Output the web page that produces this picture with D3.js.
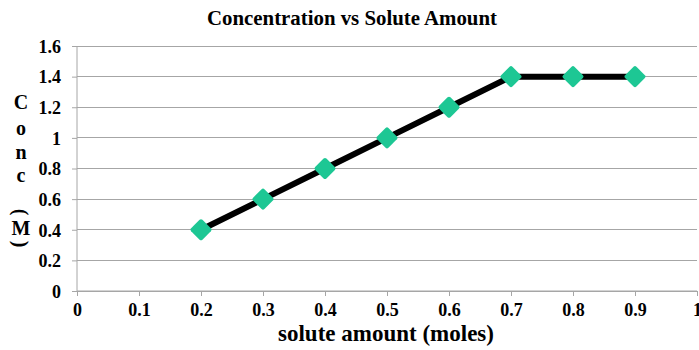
<!DOCTYPE html>
<html><head><meta charset="utf-8">
<script src="https://cdn.jsdelivr.net/npm/d3@7"></script>
<style>body{margin:0;background:#fff}svg{display:block}text{font-family:"Liberation Serif","Times New Roman",serif;font-weight:bold;fill:#000}</style>
</head><body>
<svg id="c" width="699" height="350"></svg>
<script>
const xValues = [0.2, 0.3, 0.4, 0.5, 0.6, 0.7, 0.8, 0.9];
const concValues = [0.4, 0.6, 0.8, 1.0, 1.2, 1.4, 1.4, 1.4];
const xTicks = [0, 0.1, 0.2, 0.3, 0.4, 0.5, 0.6, 0.7, 0.8, 0.9, 1];
const yTicks = [0, 0.2, 0.4, 0.6, 0.8, 1, 1.2, 1.4, 1.6];
const title = "Concentration vs Solute Amount";
const xTitle = "solute amount (moles)";
const yTitleChars = ["C","o","n","c","(","M",")"];

const svg = d3.select("#c");
const x = d3.scaleLinear().domain([0,1]).range([77,697]);
const y = d3.scaleLinear().domain([0,1.6]).range([291,46]);

// gridlines
svg.append("g").selectAll("line").data(yTicks).join("line")
  .attr("x1", x(0)).attr("x2", x(1)).attr("y1", d=>y(d)).attr("y2", d=>y(d))
  .attr("stroke", "#a6a6a6").attr("stroke-width", 1).attr("shape-rendering","crispEdges");

// y axis
const ya = svg.append("g").attr("transform", `translate(${x(0)},0)`)
  .call(d3.axisLeft(y).tickValues(yTicks).tickSize(5).tickFormat(d=>d3.format("")(d)));
ya.attr("font-size", 18);
ya.select(".domain").attr("stroke","#a6a6a6").attr("d", `M0,${y(1.6)}V${y(0)}`);
ya.selectAll(".tick line").attr("stroke","#a6a6a6");
ya.selectAll(".tick text").attr("font-size", 18).attr("x", -16).attr("dy","0.35em")
  .style("font-family","'Liberation Serif',serif").style("font-weight","bold");

// x axis
const xa = svg.append("g").attr("transform", `translate(0,${y(0)})`)
  .call(d3.axisBottom(x).tickValues(xTicks).tickSize(5).tickFormat(d=>d3.format("")(d)));
xa.attr("font-size", 18);
xa.select(".domain").attr("stroke","#a6a6a6").attr("d", `M${x(0)},0H${x(1)}`);
xa.selectAll(".tick line").attr("stroke","#a6a6a6");
xa.selectAll(".tick text").attr("font-size", 18).attr("y", 12)
  .style("font-family","'Liberation Serif',serif").style("font-weight","bold");

// line
const pts = xValues.map((v,i)=>[v, concValues[i]]);
svg.append("path").datum(pts)
  .attr("d", d3.line().x(d=>x(d[0])).y(d=>y(d[1])))
  .attr("fill","none").attr("stroke","#000").attr("stroke-width",6).attr("stroke-linejoin","round");

// markers
svg.append("g").selectAll("rect").data(pts).join("rect")
  .attr("x",-8).attr("y",-8).attr("width",16).attr("height",16).attr("rx",2)
  .attr("transform", d=>`translate(${x(d[0])},${y(d[1])}) rotate(45)`)
  .attr("fill","#1dc794");

// title
svg.append("text").attr("x", 352).attr("y", 25).attr("text-anchor","middle")
  .attr("font-size", 20).attr("textLength", 290).attr("lengthAdjust","spacingAndGlyphs").text(title);

// x title
svg.append("text").attr("x", 386).attr("y", 341).attr("text-anchor","middle")
  .attr("font-size", 23).text(xTitle);

// y title stacked
const yPos = [102, 128, 152, 175, 212, 228, 244];
svg.append("g").selectAll("text").data(yTitleChars).join("text")
  .attr("text-anchor","middle").attr("dominant-baseline","central")
  .attr("font-size", 20)
  .attr("transform", (d,i)=> `translate(21,${yPos[i]})` + ((d==="("||d===")") ? " rotate(90)" : ""))
  .text(d=>d);
</script>
</body></html>
